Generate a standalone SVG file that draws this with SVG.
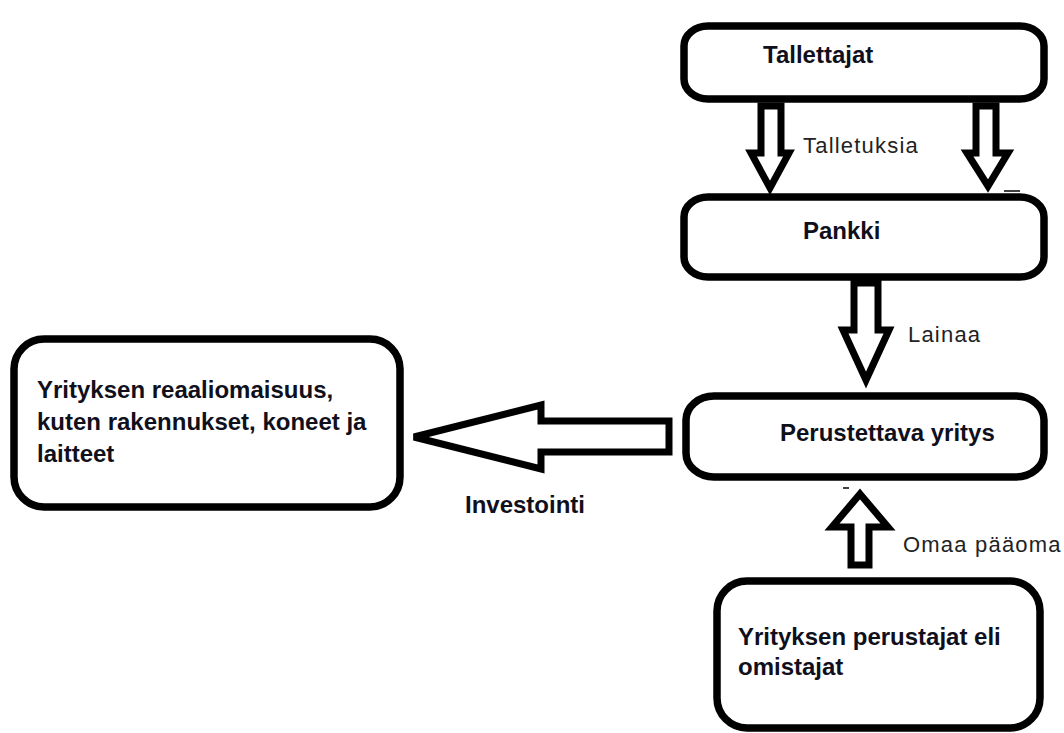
<svg xmlns="http://www.w3.org/2000/svg" width="1064" height="733" viewBox="0 0 1064 733">
<style>
.box{fill:#fff;stroke:#000;stroke-width:7.5}
.arr{fill:#fff;stroke:#000;stroke-width:7;stroke-linejoin:miter}
.t{font-family:"Liberation Sans",Arial,sans-serif;font-weight:bold;font-size:24px;fill:#10101c}
.l{font-family:"Liberation Sans",Arial,sans-serif;font-size:22px;fill:#222;letter-spacing:1.2px}
</style>
<rect width="1064" height="733" fill="#fff"/>
<g id="connectors">
<polygon class="arr" points="761,106 781,106 781,153 789,153 770,188 751,153 761,153"/>
<polygon class="arr" points="976,106 996,106 996,153 1008,153 988,186 967,153 976,153"/>
<line x1="1004" y1="191" x2="1020" y2="191" stroke="#000" stroke-width="1.5"/>
<polygon class="arr" points="854,283 878,283 878,330 889,330 866,380 843,330 854,330"/>
<polygon class="arr" points="860,494 888,527 869,527 869,565 851,565 851,527 832,527"/>
<line x1="843" y1="488" x2="849" y2="488" stroke="#000" stroke-width="1.5"/>
<polygon class="arr" points="669,421 669,452 541,452 541,469 414,437 541,405 541,421"/>
<text class="l" x="803" y="153">Talletuksia</text>
<text class="l" x="908" y="342">Lainaa</text>
<text class="l" x="903" y="552">Omaa pääoma</text>
<text class="t" x="465" y="513">Investointi</text>
</g>
<g id="tallettajat">
<rect class="box" x="684" y="26" width="360" height="73" rx="24" ry="20"/>
<text class="t" x="763" y="63">Tallettajat</text>
</g>
<g id="pankki">
<rect class="box" x="684" y="197" width="360" height="80" rx="24" ry="20"/>
<text class="t" x="803" y="239">Pankki</text>
</g>
<g id="perustettava">
<rect class="box" x="686" y="396" width="358" height="81" rx="28" ry="24"/>
<text class="t" x="780" y="441">Perustettava yritys</text>
</g>
<g id="reaaliomaisuus">
<rect class="box" x="14" y="339" width="386" height="168" rx="30"/>
<text class="t" x="37" y="398">Yrityksen reaaliomaisuus,</text>
<text class="t" x="37" y="430">kuten rakennukset, koneet ja</text>
<text class="t" x="37" y="462">laitteet</text>
</g>
<g id="perustajat">
<rect class="box" x="717" y="581" width="323" height="147" rx="30"/>
<text class="t" x="738" y="645">Yrityksen perustajat eli</text>
<text class="t" x="738" y="675">omistajat</text>
</g>
</svg>
